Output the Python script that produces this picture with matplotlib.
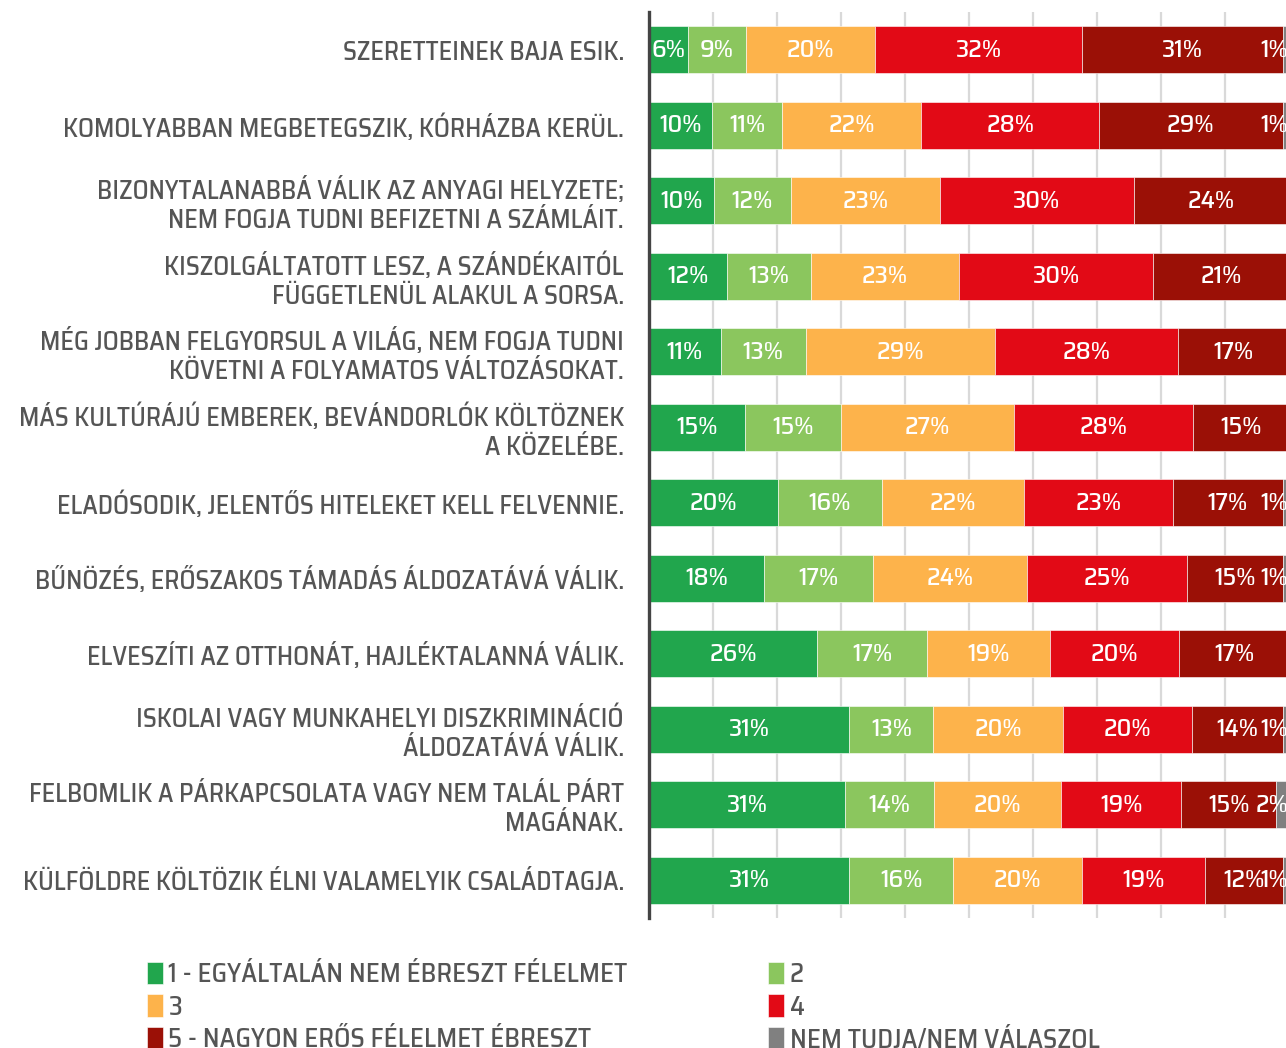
import matplotlib
matplotlib.use("Agg")
import matplotlib.pyplot as plt
import numpy as np

plt.rcParams['font.family'] = ['Saira SemiCondensed', 'DejaVu Sans']
plt.rcParams['font.weight'] = 'medium'

# ---- data (percent, top to bottom) ----
categories = [
    "SZERETTEINEK BAJA ESIK.",
    "KOMOLYABBAN MEGBETEGSZIK, KÓRHÁZBA KERÜL.",
    "BIZONYTALANABBÁ VÁLIK AZ ANYAGI HELYZETE;\nNEM FOGJA TUDNI BEFIZETNI A SZÁMLÁIT.",
    "KISZOLGÁLTATOTT LESZ, A SZÁNDÉKAITÓL\nFÜGGETLENÜL ALAKUL A SORSA.",
    "MÉG JOBBAN FELGYORSUL A VILÁG, NEM FOGJA TUDNI\nKÖVETNI A FOLYAMATOS VÁLTOZÁSOKAT.",
    "MÁS KULTÚRÁJÚ EMBEREK, BEVÁNDORLÓK KÖLTÖZNEK\nA KÖZELÉBE.",
    "ELADÓSODIK, JELENTŐS HITELEKET KELL FELVENNIE.",
    "BŰNÖZÉS, ERŐSZAKOS TÁMADÁS ÁLDOZATÁVÁ VÁLIK.",
    "ELVESZÍTI AZ OTTHONÁT, HAJLÉKTALANNÁ VÁLIK.",
    "ISKOLAI VAGY MUNKAHELYI DISZKRIMINÁCIÓ\nÁLDOZATÁVÁ VÁLIK.",
    "FELBOMLIK A PÁRKAPCSOLATA VAGY NEM TALÁL PÁRT\nMAGÁNAK.",
    "KÜLFÖLDRE KÖLTÖZIK ÉLNI VALAMELYIK CSALÁDTAGJA.",
]

series_names = ["1 - EGYÁLTALÁN NEM ÉBRESZT FÉLELMET", "2", "3", "4",
                "5 - NAGYON ERŐS FÉLELMET ÉBRESZT", "NEM TUDJA/NEM VÁLASZOL"]

s1 = [6, 10, 10, 12, 11, 15, 20, 18, 26, 31, 31, 31]
s2 = [9, 11, 12, 13, 13, 15, 16, 17, 17, 13, 14, 16]
s3 = [20, 22, 23, 23, 29, 27, 22, 24, 19, 20, 20, 20]
s4 = [32, 28, 30, 30, 28, 28, 23, 25, 20, 20, 19, 19]
s5 = [31, 29, 24, 21, 17, 15, 17, 15, 17, 14, 15, 12]
s6 = [1, 1, 0, 0, 0, 0, 1, 1, 0, 1, 2, 1]

colors = ['#21a64d', '#8bc65e', '#fdb34b', '#e20a16', '#9b1006', '#808080']
text_grey = '#555555'

data = np.array([s1, s2, s3, s4, s5, s6], dtype=float)
# rounded shares don't add up to exactly 100 -> scale bars to full width
widths = data / data.sum(axis=0) * 100

W, H = 1286, 1048
fig = plt.figure(figsize=(W / 100, H / 100), dpi=100)
ax = fig.add_axes([649 / W, 1 - 918 / H, 640 / W, 906 / H])

y = np.arange(len(categories))
left = np.zeros(len(categories))
handles = []
for k in range(len(series_names)):
    bars = ax.barh(y, widths[k], left=left, height=0.62, color=colors[k],
                   edgecolor='white', linewidth=0.4, zorder=3, label=series_names[k])
    handles.append(bars)
    for i in range(len(categories)):
        v = data[k, i]
        if v <= 0:
            continue
        if k == 5:
            # too narrow, pin to the right end of the bar
            ax.text(99.9, i, f"{int(v)}%", ha='right', va='center', color='white',
                    fontsize=18.5, zorder=5, clip_on=False)
        else:
            ax.text(left[i] + widths[k, i] / 2, i, f"{int(v)}%", ha='center',
                    va='center', color='white', fontsize=18.5, zorder=5)
    left += widths[k]

ax.set_xlim(0, 100)
ax.set_ylim(len(categories) - 0.5, -0.5)
ax.set_xticks(np.arange(10, 101, 10))
ax.xaxis.grid(True, color='#d9d9d9', linewidth=1.6, zorder=0)
ax.tick_params(axis='x', length=0, labelbottom=False)
ax.tick_params(axis='y', length=0, pad=18)
ax.set_yticks(y)
ax.set_yticklabels(categories, fontsize=18.7, color=text_grey, ha='right')
for s in ['top', 'right', 'bottom']:
    ax.spines[s].set_visible(False)
ax.spines['left'].set_color('#444444')
ax.spines['left'].set_linewidth(2.4)
ax.spines['left'].set_zorder(6)

# legend row-wise: reorder for column filling
order = [0, 2, 4, 1, 3, 5]
leg = fig.legend([handles[i] for i in order], [series_names[i] for i in order],
                 ncol=2, loc='upper left', bbox_to_anchor=(147 / W, 1 - 962 / H),
                 frameon=False, fontsize=19.2, handlelength=0.6, handleheight=0.9,
                 handletextpad=0.2, labelspacing=0.27, columnspacing=5.28,
                 borderaxespad=0, borderpad=0)
for t in leg.get_texts():
    t.set_color(text_grey)

fig.savefig('out.png', dpi=100)
